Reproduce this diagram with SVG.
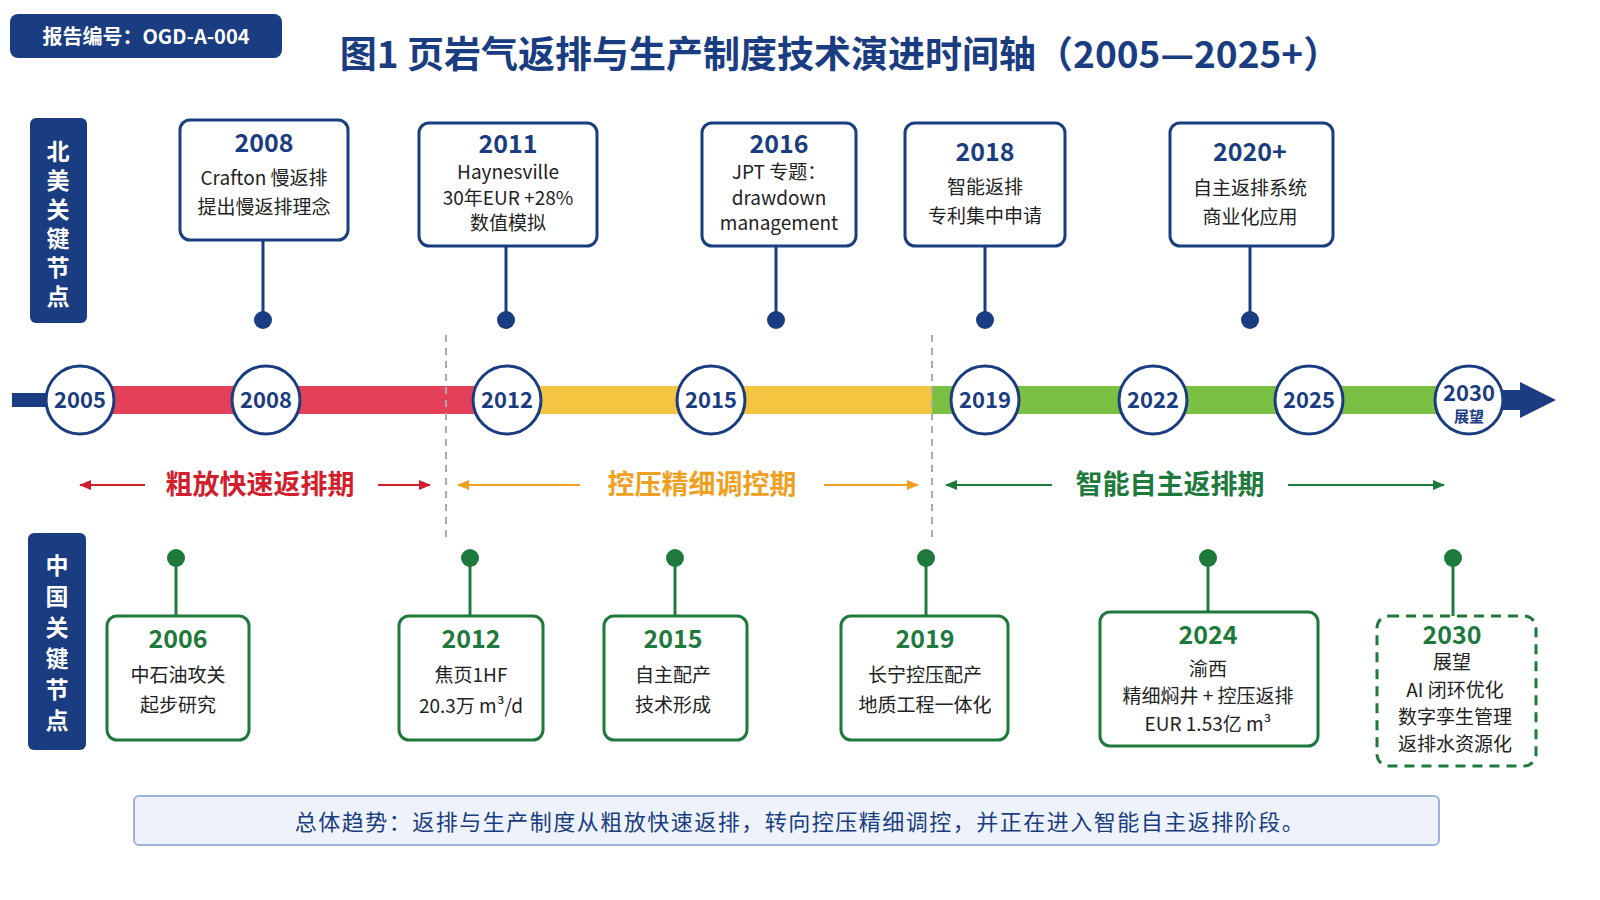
<svg xmlns="http://www.w3.org/2000/svg" width="1600" height="900" viewBox="0 0 1600 900">
<defs>
<style>
text{font-family:"Noto Sans CJK SC","Liberation Sans",sans-serif;text-anchor:middle}
.nb{fill:#fff;stroke:#1a3c80;stroke-width:3}
.gb{fill:#fff;stroke:#1e7a3c;stroke-width:3}
.ny{fill:#1a3c80;font-size:25px;font-weight:700}
.gy{fill:#1e7a3c;font-size:25px;font-weight:700}
.t{fill:#222;font-size:19px}
.yc{fill:#fff;stroke:#1a3c80;stroke-width:3}
.yt{fill:#1a3c80;font-size:22px;font-weight:700}
.ns{stroke:#1a3c80;stroke-width:3}
.gs{stroke:#1e7a3c;stroke-width:3}
.sl{fill:#fff;font-size:23px;font-weight:700}
</style>
<marker id="mr" markerWidth="12" markerHeight="12" refX="11" refY="6" orient="auto-start-reverse" markerUnits="userSpaceOnUse"><path d="M0,1L12,6L0,11z" fill="#d11f2e"/></marker>
<marker id="mo" markerWidth="12" markerHeight="12" refX="11" refY="6" orient="auto-start-reverse" markerUnits="userSpaceOnUse"><path d="M0,1L12,6L0,11z" fill="#f0a020"/></marker>
<marker id="mg" markerWidth="12" markerHeight="12" refX="11" refY="6" orient="auto-start-reverse" markerUnits="userSpaceOnUse"><path d="M0,1L12,6L0,11z" fill="#1e7a3c"/></marker>
</defs>
<rect width="1600" height="900" fill="#fff"/>
<g id="header">
<rect x="10" y="14" width="272" height="44" rx="8" fill="#1a3c80"/>
<text x="146" y="44" fill="#fff" font-size="20" font-weight="700">报告编号：OGD-A-004</text>
<text x="840" y="68" fill="#1a3c80" font-size="37" font-weight="700">图1 页岩气返排与生产制度技术演进时间轴（2005—2025+）</text>
</g>
<g id="side-labels">
<rect x="30" y="118" width="57" height="205" rx="6" fill="#1a3c80"/>
<text class="sl" x="58" y="160">北</text><text class="sl" x="58" y="189">美</text><text class="sl" x="58" y="218">关</text><text class="sl" x="58" y="247">键</text><text class="sl" x="58" y="276">节</text><text class="sl" x="58" y="305">点</text>
<rect x="28" y="533" width="58" height="217" rx="6" fill="#1a3c80"/>
<text class="sl" x="57" y="574">中</text><text class="sl" x="57" y="605">国</text><text class="sl" x="57" y="636">关</text><text class="sl" x="57" y="667">键</text><text class="sl" x="57" y="698">节</text><text class="sl" x="57" y="729">点</text>
</g>
<g id="timeline">
<rect x="12" y="393" width="50" height="14" fill="#1a3c80"/>
<rect x="80" y="386" width="396" height="28" fill="#e5405a"/>
<rect x="476" y="386" width="456" height="28" fill="#f5c542"/>
<rect x="932" y="386" width="510" height="28" fill="#7bc043"/>
<rect x="1440" y="390" width="80" height="20" fill="#1a3c80"/>
<path d="M1520,382L1556,400L1520,418z" fill="#1a3c80"/>
<line x1="446" y1="335" x2="446" y2="540" stroke="#aaa" stroke-width="2" stroke-dasharray="7,6"/>
<line x1="932" y1="335" x2="932" y2="540" stroke="#aaa" stroke-width="2" stroke-dasharray="7,6"/>
<g id="years">
<circle class="yc" cx="80" cy="400" r="34"/><text class="yt" x="80" y="408">2005</text>
<circle class="yc" cx="266" cy="400" r="34"/><text class="yt" x="266" y="408">2008</text>
<circle class="yc" cx="507" cy="400" r="34"/><text class="yt" x="507" y="408">2012</text>
<circle class="yc" cx="711" cy="400" r="34"/><text class="yt" x="711" y="408">2015</text>
<circle class="yc" cx="985" cy="400" r="34"/><text class="yt" x="985" y="408">2019</text>
<circle class="yc" cx="1153" cy="400" r="34"/><text class="yt" x="1153" y="408">2022</text>
<circle class="yc" cx="1309" cy="400" r="34"/><text class="yt" x="1309" y="408">2025</text>
<circle class="yc" cx="1469" cy="400" r="34"/><text class="yt" x="1469" y="401" font-size="19">2030</text><text x="1469" y="422" fill="#1a3c80" font-size="15" font-weight="700">展望</text>
</g>
</g>
<g id="phases">
<line x1="80" y1="485" x2="145" y2="485" stroke="#d11f2e" stroke-width="2" marker-start="url(#mr)"/>
<line x1="378" y1="485" x2="430" y2="485" stroke="#d11f2e" stroke-width="2" marker-end="url(#mr)"/>
<text x="260" y="494" fill="#d11f2e" font-size="27" font-weight="700">粗放快速返排期</text>
<line x1="458" y1="485" x2="580" y2="485" stroke="#f0a020" stroke-width="2" marker-start="url(#mo)"/>
<line x1="824" y1="485" x2="918" y2="485" stroke="#f0a020" stroke-width="2" marker-end="url(#mo)"/>
<text x="702" y="494" fill="#f0a020" font-size="27" font-weight="700">控压精细调控期</text>
<line x1="946" y1="485" x2="1052" y2="485" stroke="#1e7a3c" stroke-width="2" marker-start="url(#mg)"/>
<line x1="1288" y1="485" x2="1444" y2="485" stroke="#1e7a3c" stroke-width="2" marker-end="url(#mg)"/>
<text x="1170" y="494" fill="#1e7a3c" font-size="27" font-weight="700">智能自主返排期</text>
</g>
<g id="connectors">
<line class="ns" x1="263" y1="240" x2="263" y2="320"/><circle cx="263" cy="320" r="9" fill="#1a3c80"/>
<line class="ns" x1="506" y1="246" x2="506" y2="320"/><circle cx="506" cy="320" r="9" fill="#1a3c80"/>
<line class="ns" x1="776" y1="246" x2="776" y2="320"/><circle cx="776" cy="320" r="9" fill="#1a3c80"/>
<line class="ns" x1="985" y1="246" x2="985" y2="320"/><circle cx="985" cy="320" r="9" fill="#1a3c80"/>
<line class="ns" x1="1250" y1="246" x2="1250" y2="320"/><circle cx="1250" cy="320" r="9" fill="#1a3c80"/>
<line class="gs" x1="176" y1="558" x2="176" y2="616"/><circle cx="176" cy="558" r="9" fill="#1e7a3c"/>
<line class="gs" x1="470" y1="558" x2="470" y2="616"/><circle cx="470" cy="558" r="9" fill="#1e7a3c"/>
<line class="gs" x1="675" y1="558" x2="675" y2="616"/><circle cx="675" cy="558" r="9" fill="#1e7a3c"/>
<line class="gs" x1="926" y1="558" x2="926" y2="616"/><circle cx="926" cy="558" r="9" fill="#1e7a3c"/>
<line class="gs" x1="1208" y1="558" x2="1208" y2="612"/><circle cx="1208" cy="558" r="9" fill="#1e7a3c"/>
<line class="gs" x1="1453" y1="558" x2="1453" y2="616"/><circle cx="1453" cy="558" r="9" fill="#1e7a3c"/>
</g>
<g id="na2008"><rect class="nb" x="180" y="120" width="168" height="120" rx="10"/><text class="ny" x="264" y="152">2008</text><text class="t" x="264" y="185">Crafton 慢返排</text><text class="t" x="264" y="214">提出慢返排理念</text></g>
<g id="na2011"><rect class="nb" x="419" y="123" width="178" height="123" rx="10"/><text class="ny" x="508" y="153">2011</text><text class="t" x="508" y="179">Haynesville</text><text class="t" x="508" y="205">30年EUR +28%</text><text class="t" x="508" y="230">数值模拟</text></g>
<g id="na2016"><rect class="nb" x="702" y="123" width="154" height="123" rx="10"/><text class="ny" x="779" y="153">2016</text><text class="t" x="779" y="179">JPT 专题：</text><text class="t" x="779" y="205">drawdown</text><text class="t" x="779" y="230">management</text></g>
<g id="na2018"><rect class="nb" x="905" y="123" width="160" height="123" rx="10"/><text class="ny" x="985" y="161">2018</text><text class="t" x="985" y="194">智能返排</text><text class="t" x="985" y="223">专利集中申请</text></g>
<g id="na2020"><rect class="nb" x="1170" y="123" width="163" height="123" rx="10"/><text class="ny" x="1250" y="161">2020+</text><text class="t" x="1250" y="195">自主返排系统</text><text class="t" x="1250" y="224">商业化应用</text></g>
<g id="cn2006"><rect class="gb" x="107" y="616" width="142" height="124" rx="10"/><text class="gy" x="178" y="648">2006</text><text class="t" x="178" y="682">中石油攻关</text><text class="t" x="178" y="712">起步研究</text></g>
<g id="cn2012"><rect class="gb" x="399" y="616" width="144" height="124" rx="10"/><text class="gy" x="471" y="648">2012</text><text class="t" x="471" y="682">焦页1HF</text><text class="t" x="471" y="713">20.3万 m³/d</text></g>
<g id="cn2015"><rect class="gb" x="604" y="616" width="143" height="124" rx="10"/><text class="gy" x="673" y="648">2015</text><text class="t" x="673" y="682">自主配产</text><text class="t" x="673" y="712">技术形成</text></g>
<g id="cn2019"><rect class="gb" x="841" y="616" width="167" height="124" rx="10"/><text class="gy" x="925" y="648">2019</text><text class="t" x="925" y="682">长宁控压配产</text><text class="t" x="925" y="712">地质工程一体化</text></g>
<g id="cn2024"><rect class="gb" x="1100" y="612" width="218" height="134" rx="10"/><text class="gy" x="1208" y="644">2024</text><text class="t" x="1208" y="676">渝西</text><text class="t" x="1208" y="703">精细焖井 + 控压返排</text><text class="t" x="1208" y="731">EUR 1.53亿 m³</text></g>
<g id="cn2030"><rect x="1377" y="616" width="159" height="150" rx="12" fill="#fff" stroke="#1e7a3c" stroke-width="3" stroke-dasharray="10,7"/><text class="gy" x="1452" y="644">2030</text><text class="t" x="1452" y="669">展望</text><text class="t" x="1455" y="697">AI 闭环优化</text><text class="t" x="1455" y="724">数字孪生管理</text><text class="t" x="1455" y="751">返排水资源化</text></g>
<g id="summary">
<rect x="134" y="796" width="1305" height="49" rx="5" fill="#eef3fb" stroke="#9fb3d9" stroke-width="2"/>
<text x="800" y="830" fill="#1a3c80" font-size="22" letter-spacing="1.5">总体趋势：返排与生产制度从粗放快速返排，转向控压精细调控，并正在进入智能自主返排阶段。</text>
</g>
</svg>
